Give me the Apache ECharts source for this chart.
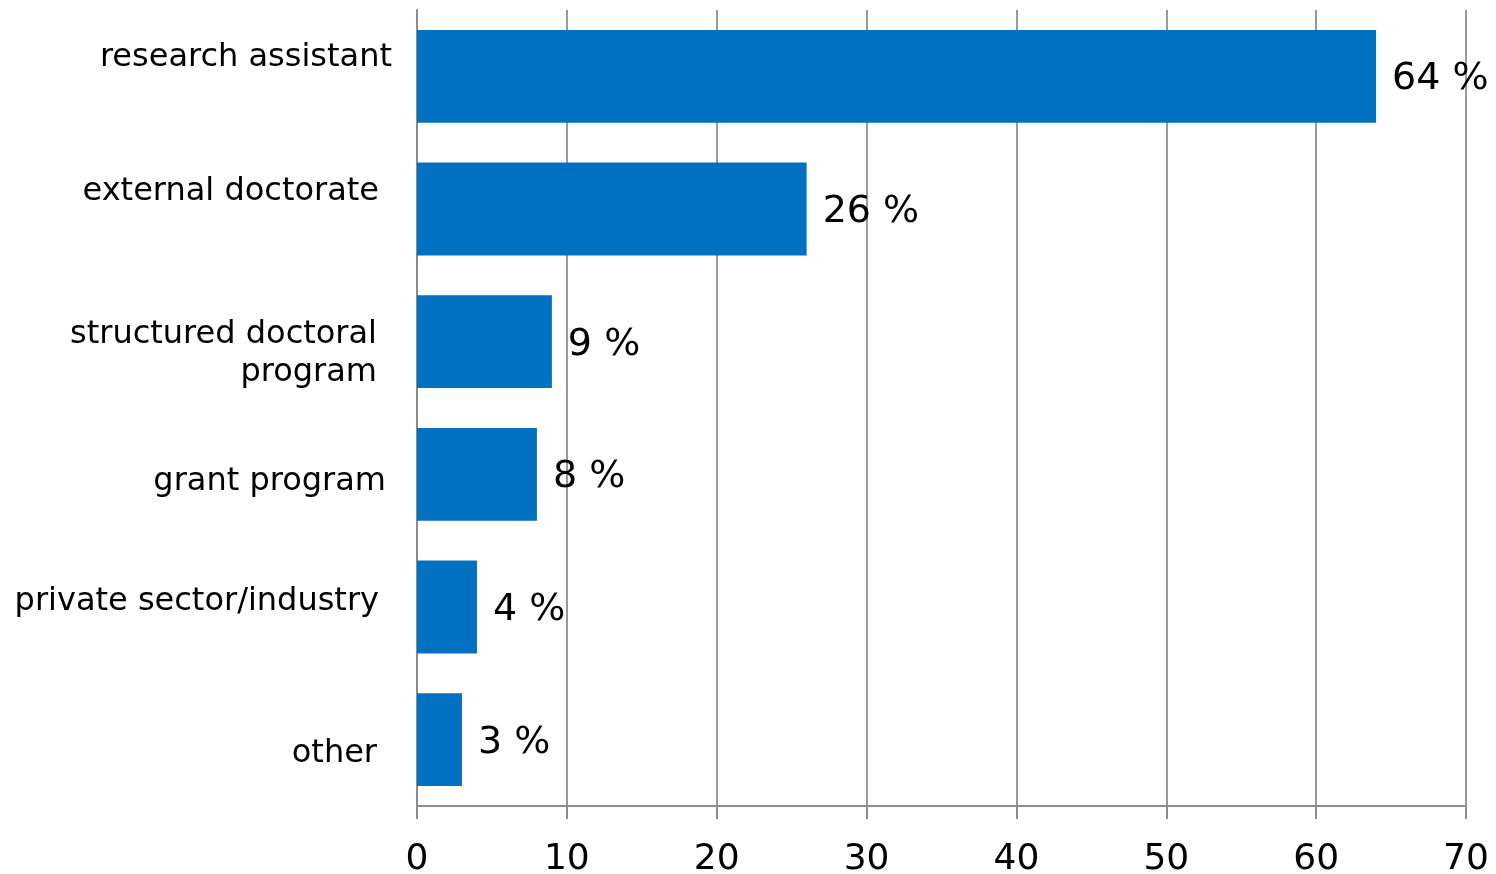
<!DOCTYPE html>
<html>
<head>
<meta charset="utf-8">
<script src="https://cdn.jsdelivr.net/npm/echarts@6/dist/echarts.min.js"></script>
<style>
  html, body { margin: 0; padding: 0; background: #fff; }
  #container { width: 1496px; height: 874px; }
</style>
</head>
<body>
<div id="container"></div>
<script>
// data
var categories = ['research assistant', 'external doctorate', 'structured doctoral\nprogram', 'grant program', 'private sector/industry', 'other'];
var shares = [64, 26, 9, 8, 4, 3];
var ticks = [0, 10, 20, 30, 40, 50, 60, 70];

// label nudges so category text sits like the original
var labelPad = [
  [0, 0, 38, 0],
  [0, 13, 34, 0],
  [24, 15, 0, 0],
  [14, 6, 0, 0],
  [0, 13, 10, 0],
  [28, 15, 0, 0]
];

var labelFont = { fontSize: 32, color: '#000', fontFamily: 'DejaVu Sans', lineHeight: 38 };
var rich = {};
labelPad.forEach(function (p, i) {
  rich['c' + i] = Object.assign({ padding: p }, labelFont);
});

var myChart = echarts.init(document.getElementById('container'));
var option = {
  animation: false,
  textStyle: { fontFamily: 'DejaVu Sans' },
  grid: { left: 417, right: 30, top: 10, bottom: 68, containLabel: false, outerBoundsMode: 'none' },
  xAxis: {
    type: 'value',
    min: ticks[0],
    max: ticks[ticks.length - 1],
    interval: 10,
    axisLine: { show: true, lineStyle: { color: '#8c8c8c', width: 2 } },
    axisTick: { show: true, length: 13, lineStyle: { color: '#8c8c8c', width: 2 } },
    axisLabel: { color: '#000', fontSize: 36, margin: 36, fontFamily: 'DejaVu Sans' },
    splitLine: { show: true, lineStyle: { color: '#999', width: 2 } }
  },
  yAxis: {
    type: 'category',
    inverse: true,
    data: categories,
    axisLine: { show: true, lineStyle: { color: '#8c8c8c', width: 2 } },
    axisTick: { show: false },
    axisLabel: {
      color: '#000', fontSize: 32, margin: 25, lineHeight: 38, align: 'right', fontFamily: 'DejaVu Sans',
      formatter: function (value, idx) {
        return value.split('\n').map(function (line) {
          return '{c' + idx + '|' + line + '}';
        }).join('\n');
      },
      rich: rich
    }
  },
  series: [
    {
      type: 'bar',
      data: shares,
      barCategoryGap: '30%',
      itemStyle: { color: '#0070C0' },
      label: {
        show: true,
        position: 'right',
        distance: 16,
        offset: [0, 3],
        color: '#000',
        fontSize: 38,
        fontFamily: 'DejaVu Sans',
        formatter: '{c} %'
      }
    }
  ]
};
myChart.setOption(option);
</script>
</body>
</html>
